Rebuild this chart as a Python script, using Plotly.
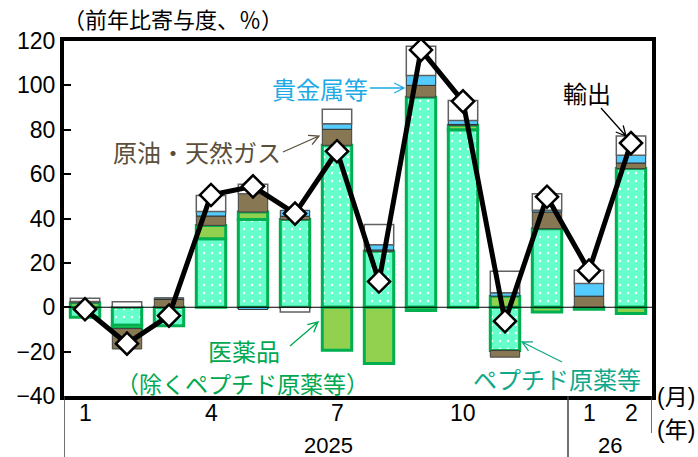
import math
import plotly.graph_objects as go

# ---------------- data ----------------
months = list(range(1, 15))  # 2025/1 .. 2026/2
month_labels = ["1", "", "", "4", "", "", "7", "", "", "10", "", "", "1", "2"]
year_labels = {"2025": 6.8, "26": 13.5}

peptide = [-4.5, -8.1, -8.3, 30.9, 39.5, 39.5, 73.0, 25.2, 94.7, 80.0, -19.5, 35.4, 0.0, 62.5]
pharma = [2.0, -1.5, 0.0, 6.0, 3.4, 0.0, -19.4, -25.4, -1.5, 2.0, 5.0, -2.1, -0.9, -2.8]
oil_gas = [0.6, -9.2, 3.5, 4.2, 8.3, 1.5, 7.2, 0.6, 5.3, 0.4, -3.0, 7.5, 5.0, 2.5]
metals = [0.0, 0.0, 0.7, 2.1, -1.0, 2.7, 2.5, 2.4, 4.5, 1.8, 1.5, 0.8, 5.7, 3.5]
others = [1.5, 2.5, 0.0, 7.2, 4.2, -2.1, 6.5, 9.1, 13.1, 9.0, 9.7, 7.5, 6.0, 8.7]
exports = [-0.9, -16.4, -3.8, 50.6, 54.5, 42.2, 70.3, 11.6, 116.0, 92.8, -6.3, 49.8, 16.5, 74.0]

# ---------------- layout geometry ----------------
W, H = 698, 457
ML, MR, MT, MB = 64, 46, 41, 61
PW, PH = W - ML - MR, H - MT - MB

NUM_FONT = "Liberation Sans Narrow, Arial Narrow, Liberation Sans, sans-serif"
JP_FONT = "Noto Sans CJK JP, sans-serif"
MIX_FONT = "Liberation Sans, Noto Sans CJK JP, sans-serif"


def px(x):
    return (x - ML) / PW


def py(y):
    return (H - MB - y) / PH


def arrow_path(x0, y0, x1, y1, head=11, ang=27):
    dx, dy = x1 - x0, y1 - y0
    d = math.hypot(dx, dy)
    ux, uy = dx / d, dy / d
    pts = []
    for s in (1, -1):
        a = math.radians(ang * s)
        rx = ux * math.cos(a) - uy * math.sin(a)
        ry = ux * math.sin(a) + uy * math.cos(a)
        pts.append((x1 - head * rx, y1 - head * ry))
    return (f"M{px(x0)},{py(y0)} L{px(x1)},{py(y1)} "
            f"M{px(pts[0][0])},{py(pts[0][1])} L{px(x1)},{py(y1)} L{px(pts[1][0])},{py(pts[1][1])}")


fig = go.Figure()

BW = 0.7
fig.add_trace(go.Bar(
    x=months, y=peptide, width=BW, name="ペプチド原薬等",
    marker=dict(color="#66FFCC", line=dict(color="#00B050", width=3),
                pattern=dict(shape=".", fgcolor="white", bgcolor="#66FFCC",
                             fillmode="replace", size=8, solidity=0.07)),
))
fig.add_trace(go.Bar(
    x=months, y=pharma, width=BW, name="医薬品（除くペプチド原薬等）",
    marker=dict(color="#92D050", line=dict(color="#00B050", width=3)),
))
fig.add_trace(go.Bar(
    x=months, y=oil_gas, width=BW, name="原油・天然ガス",
    marker=dict(color="#877752", line=dict(color="#404040", width=1)),
))
fig.add_trace(go.Bar(
    x=months, y=metals, width=BW, name="貴金属等",
    marker=dict(color="#55CCFF", line=dict(color="#303030", width=1)),
))
fig.add_trace(go.Bar(
    x=months, y=others, width=BW, name="その他",
    marker=dict(color="white", line=dict(color="#606060", width=1.5)),
))
# zero line (between the bars and the export line)
fig.add_trace(go.Scatter(
    x=[0.5, 14.5], y=[0, 0], mode="lines",
    line=dict(color="black", width=1), hoverinfo="skip",
))
fig.add_trace(go.Scatter(
    x=months, y=exports, mode="lines+markers", name="輸出",
    line=dict(color="black", width=5),
    marker=dict(symbol="diamond", size=17, color="white",
                line=dict(color="black", width=2.5)),
))

ann = []
# y-axis unit label
ann.append(dict(x=px(61), y=py(18), xref="paper", yref="paper", xanchor="left",
                yanchor="middle", text="（前年比寄与度、％）", showarrow=False,
                font=dict(family=JP_FONT, size=22, color="black")))
# series labels
labels = [
    ("貴金属等", 320, 88, "#1EAAE6", 24),
    ("原油・天然ガス", 197, 151, "#5B4F3B", 24),
    ("輸出", 587, 92, "black", 24),
    ("医薬品", 244, 350, "#00A850", 24),
    ("（除くペプチド原薬等）", 242, 383, "#00A850", 23),
    ("ペプチド原薬等", 557, 378, "#10A88A", 24),
]
for t, x, y, c, s in labels:
    ann.append(dict(x=px(x), y=py(y), xref="paper", yref="paper", xanchor="center",
                    yanchor="middle", text=t, showarrow=False, align="center",
                    font=dict(family=JP_FONT, size=s, color=c)))

# month labels
for m, lab in zip(months, month_labels):
    if lab:
        ann.append(dict(x=m, y=py(413), xref="x", yref="paper", text=lab,
                        showarrow=False, xanchor="center", yanchor="middle",
                        font=dict(family=NUM_FONT, size=23, color="black")))
for lab, xv in year_labels.items():
    ann.append(dict(x=xv, y=py(445), xref="x", yref="paper", text=lab,
                    showarrow=False, xanchor="center", yanchor="middle",
                    font=dict(family=NUM_FONT, size=22, color="black")))
ann.append(dict(x=px(676), y=py(412), xref="paper", yref="paper", text="(月)",
                showarrow=False, xanchor="center",
                font=dict(family=MIX_FONT, size=23, color="black")))
ann.append(dict(x=px(676), y=py(445), xref="paper", yref="paper", text="(年)",
                showarrow=False, xanchor="center",
                font=dict(family=MIX_FONT, size=23, color="black")))

shapes = []
# divider lines under the plot
shapes.append(dict(type="line", xref="x", yref="paper", x0=0.5, x1=0.5, y0=0, y1=py(457),
                   line=dict(color="#404040", width=1.5)))
shapes.append(dict(type="line", xref="x", yref="paper", x0=12.5, x1=12.5, y0=0, y1=py(457),
                   line=dict(color="#404040", width=1.5)))
shapes.append(dict(type="line", xref="x", yref="paper", x0=14.5, x1=14.5, y0=0, y1=py(433),
                   line=dict(color="#404040", width=1.5)))
# arrows
arrows = [
    ((370, 88, 404, 88), "#1EAAE6"),
    ((283, 152, 319, 136), "#5B4F3B"),
    ((601, 108, 626, 136), "black"),
    ((290, 346, 318, 322), "#00A850"),
    ((562, 362, 522, 342), "#10A88A"),
]
for (x0, y0, x1, y1), c in arrows:
    shapes.append(dict(type="path", xref="paper", yref="paper",
                       path=arrow_path(x0, y0, x1, y1),
                       line=dict(color=c, width=1.3)))

fig.update_layout(
    width=W, height=H,
    margin=dict(l=ML, r=MR, t=MT, b=MB, pad=0),
    paper_bgcolor="white", plot_bgcolor="white",
    barmode="relative",
    showlegend=False,
    annotations=ann,
    shapes=shapes,
    xaxis=dict(range=[0.5, 14.5], showticklabels=False, ticks="", showgrid=False,
               zeroline=False, showline=True, mirror=True, linecolor="black", linewidth=4),
    yaxis=dict(range=[-40, 120], dtick=20, tick0=0, ticks="inside", ticklen=7, tickwidth=2,
               tickcolor="black", showgrid=False, zeroline=False, showline=True, mirror=True,
               linecolor="black", linewidth=4,
               tickfont=dict(family=NUM_FONT, size=23, color="black")),
)

fig.write_html("out.html")
